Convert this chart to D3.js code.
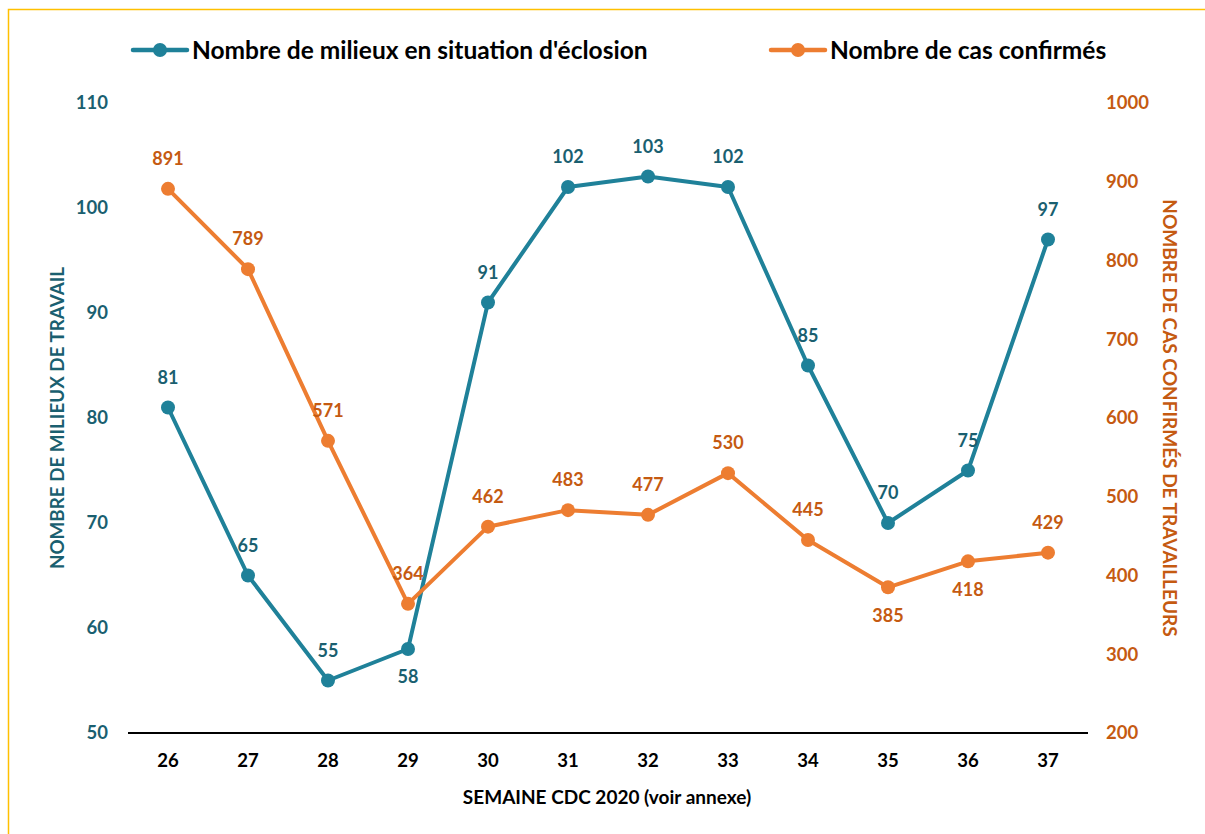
<!DOCTYPE html>
<html><head><meta charset="utf-8">
<script src="https://cdn.jsdelivr.net/npm/d3@7"></script>
<style>body{margin:0;background:#fff}svg{display:block;font-family:Lato,"Open Sans",sans-serif;font-weight:bold}</style>
</head><body>
<svg id="c" width="1205" height="834"></svg>
<script>
const weeks = ["26","27","28","29","30","31","32","33","34","35","36","37"];
const milieux = [81,65,55,58,91,102,103,102,85,70,75,97];
const cas = [891,789,571,364,462,483,477,530,445,385,418,429];
const milieuxLabelPos = ["a","a","a","b","a","a","a","a","a","a","a","a"];
const casLabelPos = ["a","a","a","a","a","a","a","a","a","b","b","a"];
const leftTicks = [50,60,70,80,90,100,110];
const rightTicks = [200,300,400,500,600,700,800,900,1000];
const seriesNames = ["Nombre de milieux en situation d'éclosion","Nombre de cas confirmés"];

const teal="#1F8199", tealTxt="#1A5F70", orange="#ED7D31", orangeTxt="#C55A11";
const svg=d3.select("#c");
svg.append("path").attr("d","M8.5,834 V9.5 H1205").attr("fill","none").attr("stroke","#FFC000").attr("stroke-width",1.5);

const x=d3.scaleBand().domain(weeks).range([128,1088]);
const yL=d3.scaleLinear().domain([50,110]).range([733,103]);
const yR=d3.scaleLinear().domain([200,1000]).range([733,103]);

svg.append("line").attr("x1",128).attr("x2",1088).attr("y1",733).attr("y2",733).attr("stroke","#000").attr("stroke-width",2);

svg.append("g").selectAll("text").data(leftTicks).join("text")
 .attr("x",108).attr("y",d=>yL(d)).attr("dy","0.35em").attr("text-anchor","end")
 .attr("fill",tealTxt).attr("font-size",18.5).text(d=>d);
svg.append("g").selectAll("text").data(rightTicks).join("text")
 .attr("x",1106).attr("y",d=>yR(d)).attr("dy","0.35em").attr("text-anchor","start")
 .attr("fill",orangeTxt).attr("font-size",18.5).text(d=>d);
svg.append("g").selectAll("text").data(weeks).join("text")
 .attr("x",d=>x(d)+x.bandwidth()/2).attr("y",761).attr("dy","0.35em").attr("text-anchor","middle")
 .attr("fill","#000").attr("font-size",18.5).text(d=>d);

svg.append("text").attr("x",607).attr("y",797).attr("dy","0.35em").attr("text-anchor","middle").attr("font-size",19).text("SEMAINE CDC 2020 (voir annexe)");
svg.append("text").attr("transform","translate(57,418) rotate(-90)").attr("dy","0.35em").attr("text-anchor","middle").attr("fill",tealTxt).attr("font-size",18.8).text("NOMBRE DE MILIEUX DE TRAVAIL");
svg.append("text").attr("transform","translate(1170,418) rotate(90)").attr("dy","0.35em").attr("text-anchor","middle").attr("fill",orangeTxt).attr("font-size",19).text("NOMBRE DE CAS CONFIRMÉS DE TRAVAILLEURS");

function series(vals,y,col,txtCol,pos){
  const cx=(d,i)=>x(weeks[i])+x.bandwidth()/2;
  const line=d3.line().x((d,i)=>cx(d,i)).y(d=>y(d));
  svg.append("path").datum(vals).attr("d",line).attr("fill","none").attr("stroke",col).attr("stroke-width",4).attr("stroke-linejoin","round");
  svg.append("g").selectAll("circle").data(vals).join("circle").attr("cx",cx).attr("cy",d=>y(d)).attr("r",7).attr("fill",col);
  svg.append("g").selectAll("text").data(vals).join("text").attr("x",cx)
   .attr("y",(d,i)=>y(d)+(pos[i]==="a"?-30:28)).attr("dy","0.35em").attr("text-anchor","middle")
   .attr("fill",txtCol).attr("font-size",18).text(d=>d);
}
series(milieux,yL,teal,tealTxt,milieuxLabelPos);
series(cas,yR,orange,orangeTxt,casLabelPos);

const leg=[{x:133,c:teal,t:seriesNames[0]},{x:771,c:orange,t:seriesNames[1]}];
leg.forEach(l=>{
  svg.append("line").attr("x1",l.x).attr("x2",l.x+54).attr("y1",50).attr("y2",50).attr("stroke",l.c).attr("stroke-width",4.5).attr("stroke-linecap","round");
  svg.append("circle").attr("cx",l.x+27).attr("cy",50).attr("r",7).attr("fill",l.c);
  svg.append("text").attr("x",l.x+59).attr("y",50).attr("dy","0.35em").attr("font-size",24.5).attr("fill","#000").text(l.t);
});
</script>
</body></html>
